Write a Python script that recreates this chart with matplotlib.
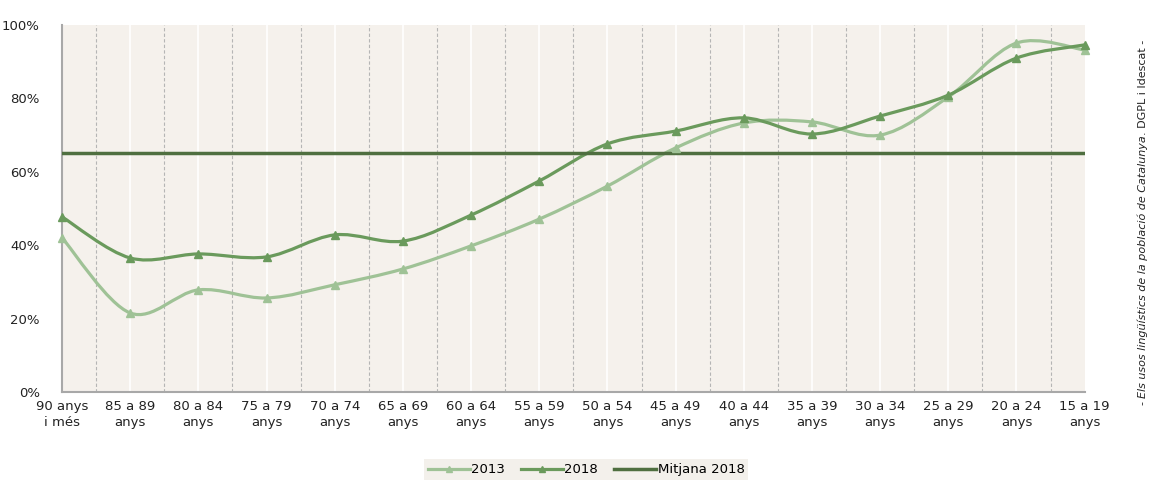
import numpy as np
import matplotlib.pyplot as plt
from matplotlib.path import Path
from matplotlib.patches import PathPatch
from matplotlib.lines import Line2D
from matplotlib.ticker import PercentFormatter

groups = ["90 anys\ni més", "85 a 89\nanys", "80 a 84\nanys", "75 a 79\nanys",
          "70 a 74\nanys", "65 a 69\nanys", "60 a 64\nanys", "55 a 59\nanys",
          "50 a 54\nanys", "45 a 49\nanys", "40 a 44\nanys", "35 a 39\nanys",
          "30 a 34\nanys", "25 a 29\nanys", "20 a 24\nanys", "15 a 19\nanys"]
v2013 = [42.0, 21.5, 27.8, 25.6, 29.2, 33.5, 39.8, 47.1,
         56.1, 66.5, 73.3, 73.6, 70.0, 80.4, 95.1, 93.2]
v2018 = [47.7, 36.5, 37.6, 36.8, 42.8, 41.1, 48.2, 57.5,
         67.6, 71.1, 74.7, 70.3, 75.2, 80.9, 91.0, 94.6]
mitjana_2018 = 65.1

c2013 = "#9fc296"
c2018 = "#6a9a5c"
cmit = "#4f6f40"
bg = "#f5f1ec"


def smooth_path(x, y):
    # Catmull-Rom style bezier, like spreadsheet "smoothed line"
    pts = np.column_stack([x, y]).astype(float)
    n = len(pts)
    verts = [pts[0]]
    codes = [Path.MOVETO]
    for i in range(n - 1):
        p0 = pts[i - 1] if i > 0 else pts[i]
        p1, p2 = pts[i], pts[i + 1]
        p3 = pts[i + 2] if i + 2 < n else pts[i + 1]
        c1 = p1 + (p2 - p0) / 6
        c2 = p2 - (p3 - p1) / 6
        verts += [c1, c2, p2]
        codes += [Path.CURVE4] * 3
    return Path(verts, codes)


fig = plt.figure(figsize=(11.49, 4.82), dpi=100)
ax = fig.add_axes([0.054, 0.187, 0.89, 0.761])
ax.set_facecolor(bg)

x = np.arange(len(groups))
ax.set_xlim(0, len(groups) - 1)
ax.set_ylim(0, 100)

for xi in x[1:-1]:
    ax.axvline(xi, color="white", lw=1.2, zorder=1)
for xi in x[:-1] + 0.5:
    ax.axvline(xi, color="#b5b5b5", lw=0.8, ls=(0, (3, 2)), zorder=1)

for vals, col in [(v2013, c2013), (v2018, c2018)]:
    ax.add_patch(PathPatch(smooth_path(x, vals), fc="none", ec=col, lw=2.3,
                           zorder=3, capstyle="round"))
    ax.plot(x, vals, ls="none", marker="^", ms=6, color=col, zorder=4,
            clip_on=False)

ax.axhline(mitjana_2018, color=cmit, lw=2.5, zorder=3)

ax.set_xticks(x)
ax.set_xticklabels(groups, fontsize=9.5, color="#222222", linespacing=1.25)
ax.set_yticks(np.arange(0, 101, 20))
ax.yaxis.set_major_formatter(PercentFormatter(decimals=0))
ax.tick_params(axis="y", length=0, labelsize=9.5, labelcolor="#222222", pad=16)
ax.tick_params(axis="x", length=0, pad=6)
for s in ["top", "right"]:
    ax.spines[s].set_visible(False)
for s in ["left", "bottom"]:
    ax.spines[s].set_color("#a8a8a8")
    ax.spines[s].set_linewidth(1.5)

handles = [Line2D([], [], color=c2013, lw=2.3, marker="^", ms=5),
           Line2D([], [], color=c2018, lw=2.3, marker="^", ms=5),
           Line2D([], [], color=cmit, lw=2.5)]
leg = fig.legend(handles, ["2013", "2018", "Mitjana 2018"], loc="center",
                 bbox_to_anchor=(0.51, 0.025), ncol=3, fontsize=9.5,
                 frameon=True, fancybox=False, handlelength=3.2,
                 handletextpad=0.1, columnspacing=1.2, borderpad=0.3)
leg.get_frame().set_facecolor("#f1ede7")
leg.get_frame().set_edgecolor("none")

# rotated source note, italic middle part
fig.canvas.draw()
renderer = fig.canvas.get_renderer()
pieces = [("- ", "normal"),
          ("Els usos lingüístics de la població de Catalunya", "italic"),
          (". DGPL i Idescat -", "normal")]
ypix = 405
for txt, style in pieces:
    t = fig.text(1143 / 1149, 1 - ypix / 482, txt, rotation=90, fontsize=8,
                 style=style, ha="center", va="bottom", color="#222222")
    bb = t.get_window_extent(renderer)
    ypix -= bb.height

fig.savefig("out.png", dpi=100)
